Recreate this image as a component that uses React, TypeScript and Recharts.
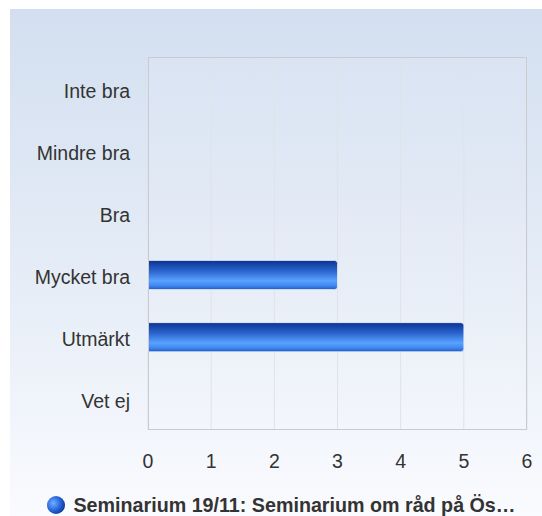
import { Bar, BarChart, CartesianGrid, Legend, XAxis, YAxis } from "recharts";

const categories = ["Inte bra", "Mindre bra", "Bra", "Mycket bra", "Utmärkt", "Vet ej"];
const answers = [0, 0, 0, 3, 5, 0];
const xTicks = [0, 1, 2, 3, 4, 5, 6];
const seriesName = "Seminarium 19/11: Seminarium om råd på Ös…";

const data = categories.map((c, i) => ({ kategori: c, antal: answers[i] }));

const FONT = "'Liberation Sans', Arial, sans-serif";

function LegendContent() {
  return (
    <div
      style={{
        height: 30,
        boxSizing: "border-box",
        paddingTop: 8,
        paddingLeft: 26,
        display: "flex",
        justifyContent: "center",
        alignItems: "center",
        fontFamily: FONT,
        fontSize: 19.7,
        fontWeight: 700,
        color: "#333",
        lineHeight: "22px",
      }}
    >
      <svg width={18} height={18} style={{ marginRight: 8 }}>
        <defs>
          <radialGradient id="legendDot" cx="35%" cy="40%" r="70%">
            <stop offset="0%" stopColor="#6fb0ff" />
            <stop offset="55%" stopColor="#2a68dc" />
            <stop offset="100%" stopColor="#0a3590" />
          </radialGradient>
        </defs>
        <circle cx={9} cy={9} r={9} fill="url(#legendDot)" />
      </svg>
      <span style={{ whiteSpace: "nowrap" }}>{seriesName}</span>
    </div>
  );
}

export default function App() {
  return (
    <div
      style={{
        position: "absolute",
        left: 10,
        top: 9,
        width: 532,
        height: 507,
        background: "linear-gradient(to bottom, #d3dff0 0%, #e6edf7 55%, #fafbfe 100%)",
      }}
    >
      <BarChart
        width={532}
        height={507}
        data={data}
        layout="vertical"
        margin={{ top: 48, right: 15, bottom: 0, left: 0 }}
        style={{ fontFamily: FONT }}
      >
        <defs>
          <linearGradient id="barFill" x1="0" y1="0" x2="0" y2="1">
            <stop offset="0%" stopColor="#0a3390" />
            <stop offset="35%" stopColor="#2a62cc" />
            <stop offset="70%" stopColor="#58a2ff" />
            <stop offset="88%" stopColor="#3f86ee" />
            <stop offset="100%" stopColor="#1f58c4" />
          </linearGradient>
        </defs>
        <CartesianGrid
          horizontal={false}
          stroke="#dfe3e8"
          strokeWidth={1}
          fill="rgba(255,255,255,0.08)"
        />
        <XAxis
          type="number"
          domain={[0, 6]}
          ticks={xTicks}
          interval={0}
          height={56}
          axisLine={false}
          tickLine={false}
          tickSize={0}
          tickMargin={24}
          tick={{ fontSize: 19.5, fill: "#333", fontFamily: FONT }}
        />
        <YAxis
          type="category"
          dataKey="kategori"
          width={138}
          axisLine={false}
          tickLine={false}
          tickSize={0}
          tickMargin={18}
          tick={{ fontSize: 19.5, fill: "#333", fontFamily: FONT, dy: 2.5 }}
        />
        <Bar
          dataKey="antal"
          name={seriesName}
          fill="url(#barFill)"
          barSize={29}
          radius={[0, 3, 3, 0]}
          stroke="#ffffff"
          strokeOpacity={0.6}
          strokeWidth={1}
          isAnimationActive={false}
        />
        <Legend verticalAlign="bottom" content={() => <LegendContent />} />
      </BarChart>
      <div
        style={{
          position: "absolute",
          left: 138,
          top: 48,
          width: 379,
          height: 373,
          border: "1px solid #c8ccd2",
          boxSizing: "border-box",
          pointerEvents: "none",
        }}
      />
    </div>
  );
}
